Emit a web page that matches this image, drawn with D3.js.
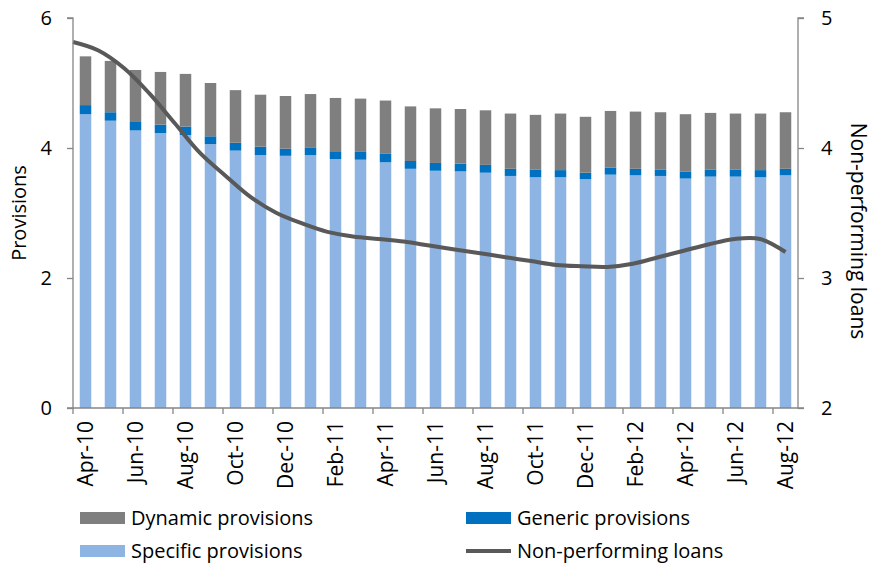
<!DOCTYPE html>
<html>
<head>
<meta charset="utf-8">
<script src="https://cdn.jsdelivr.net/npm/d3@7"></script>
<style>
  html, body { margin: 0; padding: 0; background: #fff; }
  svg { display: block; }
  text { font-family: "Open Sans", sans-serif; fill: #000; }
</style>
</head>
<body>
<svg id="chart" width="881" height="564"></svg>
<script>
const months = ["Apr-10","May-10","Jun-10","Jul-10","Aug-10","Sep-10","Oct-10","Nov-10","Dec-10",
  "Jan-11","Feb-11","Mar-11","Apr-11","May-11","Jun-11","Jul-11","Aug-11","Sep-11","Oct-11","Nov-11","Dec-11",
  "Jan-12","Feb-12","Mar-12","Apr-12","May-12","Jun-12","Jul-12","Aug-12"];
const specific = [4.52,4.42,4.27,4.23,4.20,4.06,3.96,3.89,3.88,3.89,3.83,3.82,3.78,3.68,3.65,3.64,3.62,3.57,3.55,3.55,3.52,3.59,3.58,3.57,3.53,3.56,3.56,3.55,3.58];
const generic  = [0.14,0.13,0.13,0.13,0.13,0.12,0.12,0.13,0.11,0.12,0.12,0.12,0.13,0.12,0.12,0.12,0.12,0.11,0.12,0.11,0.10,0.11,0.10,0.10,0.11,0.11,0.11,0.11,0.10];
const dynamic  = [0.75,0.79,0.80,0.81,0.81,0.82,0.81,0.80,0.81,0.82,0.82,0.82,0.82,0.84,0.84,0.84,0.84,0.85,0.84,0.87,0.86,0.87,0.88,0.88,0.88,0.87,0.86,0.87,0.87];
const npl      = [4.815,4.75,4.615,4.42,4.19,3.96,3.785,3.62,3.50,3.42,3.355,3.32,3.30,3.28,3.25,3.22,3.19,3.16,3.13,3.10,3.09,3.085,3.11,3.16,3.21,3.26,3.30,3.30,3.20];
const leftTicks = [0,2,4,6];
const rightTicks = [2,3,4,5];
const tickMonths = months.filter((m,i) => i % 2 === 0);

const seriesKeys = ["specific","generic","dynamic"];
const seriesNames = {specific:"Specific provisions", generic:"Generic provisions", dynamic:"Dynamic provisions", npl:"Non-performing loans"};
const colors = {specific:"#8db4e2", generic:"#0070c0", dynamic:"#7f7f7f", npl:"#595959"};
const axisColor = "#868686";

const rows = months.map((m,i) => ({month:m, specific:specific[i], generic:generic[i], dynamic:dynamic[i]}));

const svg = d3.select("#chart");
const L = 73, R = 798, T = 18, B = 408;

const x = d3.scaleBand().domain(months).range([L, R]).paddingInner(0.54).paddingOuter(0.27);
const yL = d3.scaleLinear().domain([0, 6]).range([B, T]);
const yR = d3.scaleLinear().domain([2, 5]).range([B, T]);
const xLine = d3.scalePoint().domain(months).range([L, x(months[months.length-1]) + x.bandwidth()/2]);

const stack = d3.stack().keys(seriesKeys)(rows);

svg.append("g").selectAll("g").data(stack).join("g")
  .attr("fill", d => colors[d.key])
  .selectAll("rect").data(d => d).join("rect")
  .attr("x", d => x(d.data.month))
  .attr("width", x.bandwidth())
  .attr("y", d => yL(d[1]))
  .attr("height", d => yL(d[0]) - yL(d[1]));

// NPL line
const line = d3.line().x((d,i) => xLine(months[i])).y(d => yR(d)).curve(d3.curveCatmullRom.alpha(0.5));
svg.append("path").datum(npl).attr("d", line)
  .attr("fill","none").attr("stroke", colors.npl).attr("stroke-width", 4).attr("stroke-linecap","butt");

// Left axis
const gL = svg.append("g").attr("transform", `translate(${L},0)`)
  .call(d3.axisLeft(yL).tickValues(leftTicks).tickSize(6).tickPadding(15).tickFormat(d3.format("d")));
// Right axis
const gR = svg.append("g").attr("transform", `translate(${R},0)`)
  .call(d3.axisRight(yR).tickValues(rightTicks).tickSize(6).tickPadding(17).tickFormat(d3.format("d")));
[gL, gR].forEach(g => {
  g.select(".domain").attr("stroke", axisColor).attr("stroke-width", 1.3);
  g.selectAll(".tick line").attr("stroke", axisColor).attr("stroke-width", 1.3);
  g.selectAll(".tick text").attr("font-size", 20).attr("font-family", "Open Sans, sans-serif").attr("fill", "#000");
});
gL.select(".domain").attr("d", `M-6,${T}H0V${B}H-6`);
gR.select(".domain").attr("d", `M6,${T}H0V${B}H6`);

// Bottom axis: ticks at category boundaries every 2 months, labels at bar centres
const gB = svg.append("g").attr("transform", `translate(0,${B})`);
gB.append("line").attr("x1", L).attr("x2", R).attr("y1", 0).attr("y2", 0)
  .attr("stroke", axisColor).attr("stroke-width", 1.3);
gB.selectAll("line.tk").data(tickMonths).join("line").attr("class","tk")
  .attr("x1", d => x(d) - x.step()*x.paddingOuter()).attr("x2", d => x(d) - x.step()*x.paddingOuter())
  .attr("y1", 0).attr("y2", 6).attr("stroke", axisColor).attr("stroke-width", 1.3);
gB.selectAll("text").data(tickMonths).join("text")
  .attr("transform", d => `translate(${x(d) + x.bandwidth()/2},13) rotate(-90)`)
  .attr("text-anchor","end").attr("dy","0.36em").attr("font-size", 21)
  .text(d => d);

// Axis titles
svg.append("text").attr("transform", `translate(19,${(T+B)/2}) rotate(-90)`)
  .attr("text-anchor","middle").attr("dy","0.36em").attr("font-size", 20).text("Provisions");
svg.append("text").attr("transform", `translate(859,${(T+B)/2 + 18}) rotate(90)`)
  .attr("text-anchor","middle").attr("dy","0.36em").attr("font-size", 21).text("Non-performing loans");

// Legend
const legendItems = [
  {key:"dynamic", x:80, y:518, type:"rect"},
  {key:"generic", x:466, y:518, type:"rect"},
  {key:"specific", x:80, y:551, type:"rect"},
  {key:"npl", x:466, y:551, type:"line"}
];
const lg = svg.append("g").selectAll("g").data(legendItems).join("g")
  .attr("transform", d => `translate(${d.x},${d.y})`);
lg.filter(d => d.type === "rect").append("rect")
  .attr("x", 0).attr("y", -6).attr("width", 45).attr("height", 12).attr("fill", d => colors[d.key]);
lg.filter(d => d.type === "line").append("line")
  .attr("x1", 0).attr("x2", 45).attr("y1", 0).attr("y2", 0)
  .attr("stroke", d => colors[d.key]).attr("stroke-width", 4);
lg.append("text").attr("x", 51).attr("dy","0.36em").attr("font-size", 20)
  .text(d => seriesNames[d.key]);
</script>
</body>
</html>
